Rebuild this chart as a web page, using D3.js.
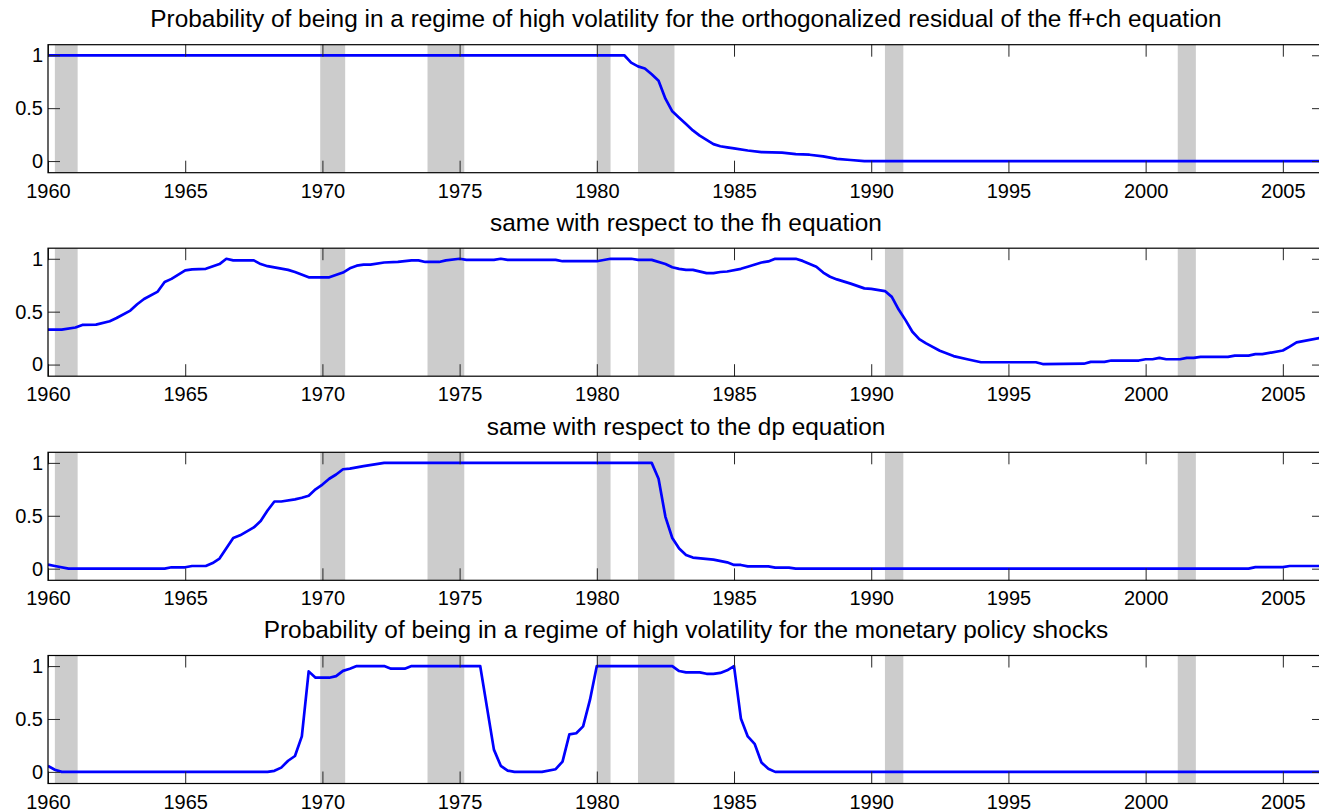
<!DOCTYPE html>
<html>
<head>
<meta charset="utf-8">
<script src="https://cdn.jsdelivr.net/npm/d3@7"></script>
<style>
body { margin: 0; background: #fff; }
text { font-family: "Liberation Sans", Arial, sans-serif; }
</style>
</head>
<body>
<div id="chart"></div>
<script>
// panel titles
var titles = [
  "Probability of being in a regime of high volatility for the orthogonalized residual of the ff+ch equation",
  "same with respect to the fh equation",
  "same with respect to the dp equation",
  "Probability of being in a regime of high volatility for the monetary policy shocks"
];

// NBER recessions (shaded)
var recStart = [1960.25, 1969.92, 1973.83, 1980.0, 1981.5, 1990.5, 2001.17];
var recEnd   = [1961.08, 1970.83, 1975.17, 1980.5, 1982.83, 1991.17, 2001.83];

var xTicks = [1960, 1965, 1970, 1975, 1980, 1985, 1990, 1995, 2000, 2005];
var yTicks = [0, 0.5, 1];

// ff+ch equation
var p1Years = [1960, 1981.0, 1981.25, 1981.5, 1981.75, 1982.0, 1982.25, 1982.5, 1982.75, 1983.0, 1983.25, 1983.5,
  1983.75, 1984.0, 1984.25, 1984.5, 1984.75, 1985.0, 1985.5, 1986.0, 1986.75, 1987.25, 1987.75, 1988.25, 1988.75,
  1989.25, 1989.75, 2006.5];
var p1Vals = [1, 1, 0.93, 0.895, 0.875, 0.82, 0.76, 0.59, 0.47, 0.41, 0.35, 0.29,
  0.24, 0.2, 0.16, 0.14, 0.13, 0.12, 0.10, 0.085, 0.08, 0.065, 0.06, 0.045, 0.02,
  0.01, 0, 0];

// fh equation
var p2Years = [1960.0, 1960.5, 1961.0, 1961.25, 1961.75, 1962.25, 1962.5, 1963.0, 1963.25, 1963.5, 1964.0, 1964.25,
  1964.5, 1965.0, 1965.25, 1965.75, 1966.25, 1966.5, 1966.75, 1967.5, 1967.75, 1968.0, 1968.75, 1969.0, 1969.5,
  1970.25, 1970.75, 1971.0, 1971.25, 1971.5, 1971.75, 1972.25, 1972.75, 1973.25, 1973.5, 1973.75, 1974.25, 1974.5,
  1975.0, 1975.25, 1976.25, 1976.5, 1976.75, 1978.5, 1978.75, 1980.0, 1980.5, 1981.25, 1981.5, 1982.0, 1982.5,
  1982.75, 1983.0, 1983.25, 1983.5, 1984.0, 1984.25, 1984.5, 1984.75, 1985.25, 1985.5, 1986.0, 1986.25, 1986.5,
  1987.25, 1987.5, 1988.0, 1988.25, 1988.5, 1988.75, 1989.25, 1989.75, 1990.0, 1990.5, 1990.75, 1991.0, 1991.25,
  1991.5, 1991.75, 1992.0, 1992.5, 1993.0, 1993.5, 1994.0, 1996.0, 1996.25, 1997.75, 1998.0, 1998.5, 1998.75,
  1999.75, 2000.0, 2000.25, 2000.5, 2000.75, 2001.25, 2001.5, 2001.75, 2002.0, 2003.0, 2003.25, 2003.75, 2004.0,
  2004.25, 2005.0, 2005.25, 2005.5, 2006.5];
var p2Vals = [0.33, 0.33, 0.35, 0.375, 0.378, 0.41, 0.44, 0.51, 0.57, 0.62, 0.69, 0.78,
  0.81, 0.89, 0.9, 0.905, 0.95, 1.0, 0.985, 0.985, 0.95, 0.93, 0.895, 0.875, 0.825,
  0.825, 0.87, 0.91, 0.935, 0.945, 0.945, 0.965, 0.97, 0.985, 0.985, 0.97, 0.97, 0.985,
  1.0, 0.99, 0.99, 1.0, 0.99, 0.99, 0.977, 0.977, 1.0, 1.0, 0.99, 0.99, 0.95,
  0.92, 0.905, 0.895, 0.895, 0.865, 0.865, 0.875, 0.88, 0.905, 0.925, 0.965, 0.975, 1.0,
  1.0, 0.98, 0.925, 0.87, 0.83, 0.805, 0.765, 0.72, 0.715, 0.695, 0.64, 0.52, 0.42,
  0.31, 0.24, 0.2, 0.13, 0.08, 0.05, 0.022, 0.022, 0.005, 0.008, 0.025, 0.025, 0.038,
  0.038, 0.05, 0.05, 0.063, 0.05, 0.05, 0.063, 0.063, 0.072, 0.072, 0.085, 0.085, 0.098,
  0.098, 0.133, 0.17, 0.21, 0.26];

// dp equation
var p3Years = [1960, 1960.25, 1960.75, 1964.25, 1964.5, 1965.0, 1965.25, 1965.75, 1966.0, 1966.25, 1966.75, 1967.0,
  1967.5, 1967.75, 1968.0, 1968.25, 1968.5, 1969.0, 1969.25, 1969.5, 1969.75, 1970.0, 1970.25, 1970.5, 1970.75,
  1971.0, 1971.5, 1972.25, 1982.0, 1982.25, 1982.5, 1982.75, 1983.0, 1983.25, 1983.5, 1984.25, 1984.75, 1985.0,
  1985.25, 1985.5, 1986.25, 1986.5, 1987.0, 1987.25, 2003.75, 2004.0, 2005.0, 2005.25, 2006.5];
var p3Vals = [0.038, 0.025, 0, 0, 0.013, 0.013, 0.025, 0.025, 0.053, 0.095, 0.29, 0.315,
  0.39, 0.45, 0.55, 0.635, 0.635, 0.655, 0.67, 0.69, 0.75, 0.795, 0.85, 0.89, 0.94,
  0.945, 0.97, 1.0, 1.0, 0.85, 0.49, 0.29, 0.19, 0.13, 0.105, 0.085, 0.06, 0.035,
  0.035, 0.022, 0.022, 0.01, 0.01, 0, 0, 0.015, 0.015, 0.025, 0.025];

// monetary policy shocks
var p4Years = [1960, 1960.25, 1960.5, 1968.0, 1968.25, 1968.5, 1968.75, 1969.0, 1969.25, 1969.5, 1969.75, 1970.25,
  1970.5, 1970.75, 1971.0, 1971.25, 1972.25, 1972.5, 1973.0, 1973.25, 1975.75, 1976.25, 1976.5, 1976.75, 1977.0,
  1978.0, 1978.5, 1978.75, 1979.0, 1979.25, 1979.5, 1979.75, 1980.0, 1982.75, 1983.0, 1983.25, 1983.75, 1984.0,
  1984.25, 1984.5, 1984.75, 1985.0, 1985.25, 1985.5, 1985.75, 1986.0, 1986.25, 1986.5, 2006.5];
var p4Vals = [0.057, 0.02, 0, 0, 0.01, 0.04, 0.105, 0.15, 0.335, 0.95, 0.89, 0.89,
  0.905, 0.955, 0.975, 1.0, 1.0, 0.975, 0.975, 1.0, 1.0, 0.21, 0.057, 0.012, 0,
  0, 0.025, 0.097, 0.355, 0.365, 0.43, 0.68, 1.0, 1.0, 0.953, 0.94, 0.94, 0.927,
  0.927, 0.935, 0.96, 1.0, 0.505, 0.335, 0.265, 0.088, 0.03, 0, 0];

var series = [[p1Years, p1Vals], [p2Years, p2Vals], [p3Years, p3Vals], [p4Years, p4Vals]];

var W = 1319, H = 812;
var left = 48, plotW = 1276, plotH = 128;
var tops = [44.7, 248.2, 452.3, 655.5];

var svg = d3.select("#chart").append("svg").attr("width", W).attr("height", H);

var x = d3.scaleLinear().domain([1960, 2006.5]).range([0, plotW]);
var y = d3.scaleLinear().domain([-0.11, 1.1]).range([plotH, 0]);

var line = d3.line()
  .x(function(d) { return x(d[0]); })
  .y(function(d) { return y(d[1]); });

series.forEach(function(s, i) {
  var g = svg.append("g").attr("transform", "translate(" + left + "," + tops[i] + ")");

  g.append("clipPath").attr("id", "clip" + i)
    .append("rect").attr("width", plotW).attr("height", plotH);

  var pts = s[0].map(function(yr, k) { return [yr, s[1][k]]; });

  var body = g.append("g").attr("clip-path", "url(#clip" + i + ")");
  body.selectAll("rect.rec")
    .data(recStart)
    .enter().append("rect")
    .attr("class", "rec")
    .attr("x", function(d) { return x(d); })
    .attr("width", function(d, k) { return x(recEnd[k]) - x(d); })
    .attr("y", 0)
    .attr("height", plotH)
    .attr("fill", "#cccccc");

  body.append("path")
    .datum(pts)
    .attr("fill", "none")
    .attr("stroke", "#0000ff")
    .attr("stroke-width", 2.7)
    .attr("stroke-linejoin", "round")
    .attr("d", line);

  // axes, MATLAB style: inward ticks on every side
  var xb = g.append("g").attr("transform", "translate(0," + plotH + ")")
    .call(d3.axisBottom(x).tickValues(xTicks).tickFormat(d3.format("d")).tickSizeInner(-12).tickSizeOuter(0).tickPadding(11));
  var xt = g.append("g")
    .call(d3.axisTop(x).tickValues(xTicks).tickFormat("").tickSizeInner(-12).tickSizeOuter(0));
  var yl = g.append("g")
    .call(d3.axisLeft(y).tickValues(yTicks).tickFormat(d3.format("")).tickSizeInner(-12).tickSizeOuter(0).tickPadding(5));
  var yr = g.append("g").attr("transform", "translate(" + plotW + ",0)")
    .call(d3.axisRight(y).tickValues(yTicks).tickFormat("").tickSizeInner(-12).tickSizeOuter(0));

  [xb, xt, yl, yr].forEach(function(a) {
    a.select(".domain").remove();
    a.selectAll("line").attr("stroke", "#262626");
    a.selectAll("text").attr("fill", "#000").style("font-size", "20px")
      .style("font-family", "'Liberation Sans', Arial, sans-serif");
  });

  g.append("rect")
    .attr("width", plotW).attr("height", plotH)
    .attr("fill", "none").attr("stroke", "#000").attr("stroke-width", 1.2);

  g.append("text")
    .attr("x", plotW / 2)
    .attr("y", -17.5)
    .attr("text-anchor", "middle")
    .style("font-size", "24.4px")
    .attr("fill", "#000")
    .text(titles[i]);
});
</script>
</body>
</html>
